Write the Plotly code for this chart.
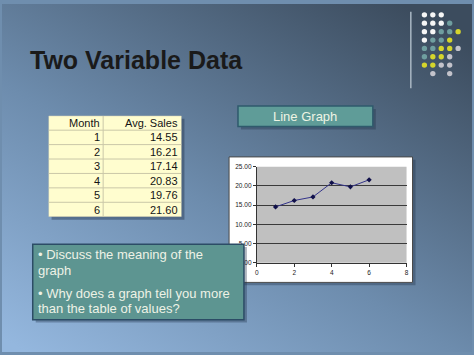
import base64
import plotly.graph_objects as go

W, H = 474, 355

# ---- data ----
months = [1, 2, 3, 4, 5, 6]
avg_sales = [14.55, 16.21, 17.14, 20.83, 19.76, 21.60]
table_header = ["Month", "Avg. Sales"]
x_ticks = [0, 2, 4, 6, 8]
y_ticks = [0, 5, 10, 15, 20, 25]
title_text = "Two Variable Data"
label_text = "Line Graph"
bullet_lines = [["• Discuss the meaning of the", "graph"],
                ["• Why does a graph tell you more", "than the table of values?"]]
dot_rows = ["WWW..", "WWWT.", "WWTTY", "WTTY.", "TTYYG", "TYYG.", "YYGG.", ".G.G."]


def px(x):
    return x / W


def py(y):
    return 1 - y / H


FONT = "Liberation Sans, Arial, sans-serif"

fig = go.Figure()

# ---- background gradient as an inline SVG image ----
svg = (
    "<svg xmlns='http://www.w3.org/2000/svg' width='474' height='355'>"
    "<defs><linearGradient id='g' x1='0.05' y1='1' x2='0.85' y2='0'>"
    "<stop offset='0' stop-color='#94b7de'/>"
    "<stop offset='0.45' stop-color='#6d8cad'/>"
    "<stop offset='1' stop-color='#3c4c5e'/>"
    "</linearGradient></defs>"
    "<rect width='474' height='355' fill='url(#g)'/></svg>"
)
src = "data:image/svg+xml;base64," + base64.b64encode(svg.encode()).decode()

shapes = []
annotations = []


def rect(x0, y0, x1, y1, fill, line=None, lw=0, layer="below"):
    shapes.append(dict(type="rect", xref="paper", yref="paper",
                       x0=px(x0), x1=px(x1), y0=py(y1), y1=py(y0),
                       fillcolor=fill,
                       line=dict(color=line or fill, width=lw),
                       layer=layer))


# ---- line chart (main axes) ----
fig.add_trace(go.Scatter(
    x=months, y=avg_sales, mode="lines+markers",
    line=dict(color="#34348a", width=1),
    marker=dict(symbol="diamond", size=4, color="#10104a"),
    xaxis="x", yaxis="y", showlegend=False, hoverinfo="skip",
))

# chart frame + plot area
rect(232, 159, 417, 287, "rgba(30,45,70,0.35)")           # shadow
rect(229, 156, 414, 284, "#ffffff", "#4a4a4a", 1)          # white frame
shapes.append(dict(type="rect", xref="x domain", yref="y domain",
                   x0=0, x1=1, y0=0, y1=1, fillcolor="#c0c0c0",
                   line=dict(width=0), layer="below"))

# ---- table (its own scale: x in column widths, y in row index) ----
col_w = [55, 79]
col_edges = [0, col_w[0], col_w[0] + col_w[1]]
n_rows = len(months) + 1
rect(50, 117, 184, 220, "rgba(30,45,70,0.4)")              # table shadow
shapes.append(dict(type="rect", xref="x2", yref="y2", x0=0, x1=col_edges[2],
                   y0=0, y1=n_rows, fillcolor="#fffdcf",
                   line=dict(color="#d2cfb4", width=1), layer="above"))
for r in range(1, n_rows):
    shapes.append(dict(type="line", xref="x2", yref="y2", x0=0, x1=col_edges[2],
                       y0=r, y1=r, line=dict(color="#cac7a8", width=1), layer="above"))
shapes.append(dict(type="line", xref="x2", yref="y2", x0=col_edges[1], x1=col_edges[1],
                   y0=0, y1=n_rows, line=dict(color="#cac7a8", width=1), layer="above"))
rows = [table_header] + [[str(m), f"{v:.2f}"] for m, v in zip(months, avg_sales)]
for r, row in enumerate(rows):
    for c, txt in enumerate(row):
        annotations.append(dict(xref="x2", yref="y2", x=col_edges[c + 1] - 1.5, y=r + 0.5,
                                text=txt, showarrow=False, xanchor="right", yanchor="middle",
                                font=dict(family=FONT, size=11, color="#141414")))

# ---- title ----
annotations.append(dict(xref="paper", yref="paper", x=px(26), y=py(57), text=f"<b>{title_text}</b>",
                        showarrow=False, xanchor="left", yanchor="middle",
                        font=dict(family=FONT, size=25, color="#1a1a1a")))

# ---- "Line Graph" label box ----
rect(241, 107, 377, 128, "rgba(30,45,70,0.35)")
rect(238, 104, 374, 125, "#5f9c98", "#2f5a6c", 1.5)
annotations.append(dict(xref="paper", yref="paper", x=px(306), y=py(115), text=label_text,
                        showarrow=False, xanchor="center", yanchor="middle",
                        font=dict(family=FONT, size=13, color="#eef4e4")))

# ---- bullet text box (above the chart) ----
rect(34, 248, 247, 325, "rgba(30,45,70,0.35)", layer="above")
rect(31, 245, 244, 322, "#5d9591", "#2c4c66", 1.5, layer="above")
line_y = [[256, 272], [295, 311]]
for para, ys in zip(bullet_lines, line_y):
    for txt, yy in zip(para, ys):
        annotations.append(dict(xref="paper", yref="paper", x=px(34), y=py(yy), text=txt,
                                showarrow=False, xanchor="left", yanchor="middle",
                                font=dict(family=FONT, size=13, color="#eef2e6")))

# ---- decorative dot grid (top right) ----
dot_colors = {"W": "#f6f6f6", "T": "#6f9e9f", "Y": "#d5d52c", "G": "#c3c3cb"}
dot_x = [426, 434.5, 443, 451.5, 460]
dot_y = [11, 19.6, 28.2, 36.8, 45.3, 53.8, 62.3, 71]
r0 = 2.7
for yy, row in zip(dot_y, dot_rows):
    for xx, ch in zip(dot_x, row):
        if ch in dot_colors:
            shapes.append(dict(type="circle", xref="paper", yref="paper",
                               x0=px(xx - r0), x1=px(xx + r0), y0=py(yy + r0), y1=py(yy - r0),
                               fillcolor=dot_colors[ch], line=dict(width=0), layer="below"))
shapes.append(dict(type="line", xref="paper", yref="paper", x0=px(412.3), x1=px(412.3),
                   y0=py(86), y1=py(8), line=dict(color="#a9b7c3", width=1.5), layer="below"))

fig.update_layout(
    width=W, height=H,
    margin=dict(l=0, r=0, t=0, b=0),
    paper_bgcolor="#6f8eae",
    plot_bgcolor="rgba(0,0,0,0)",
    showlegend=False,
    images=[dict(source=src, xref="paper", yref="paper", x=0, y=1, sizex=1, sizey=1,
                 xanchor="left", yanchor="top", sizing="stretch", layer="below")],
    shapes=shapes,
    annotations=annotations,
    xaxis=dict(domain=[px(257), px(408)], range=[0, 8], tickvals=x_ticks,
               showgrid=False, zeroline=False, showline=True, linecolor="#333333", linewidth=1,
               ticks="outside", ticklen=3, tickcolor="#333333",
               tickfont=dict(family=FONT, size=6.5, color="#222222"), anchor="y", fixedrange=True),
    yaxis=dict(domain=[py(264), py(166)], range=[0, 25], tickvals=y_ticks, tickformat=".2f",
               showgrid=True, gridcolor="#3a3a3a", gridwidth=1, zeroline=False,
               showline=True, linecolor="#333333", linewidth=1,
               ticks="outside", ticklen=3, tickcolor="#333333",
               tickfont=dict(family=FONT, size=6.5, color="#222222"), anchor="x", fixedrange=True),
    xaxis2=dict(domain=[px(47), px(181)], range=[0, col_edges[2]], visible=False,
                anchor="y2", fixedrange=True),
    yaxis2=dict(domain=[py(217), py(114)], range=[n_rows, 0], visible=False,
                anchor="x2", fixedrange=True),
)

fig.write_html("out.html")
